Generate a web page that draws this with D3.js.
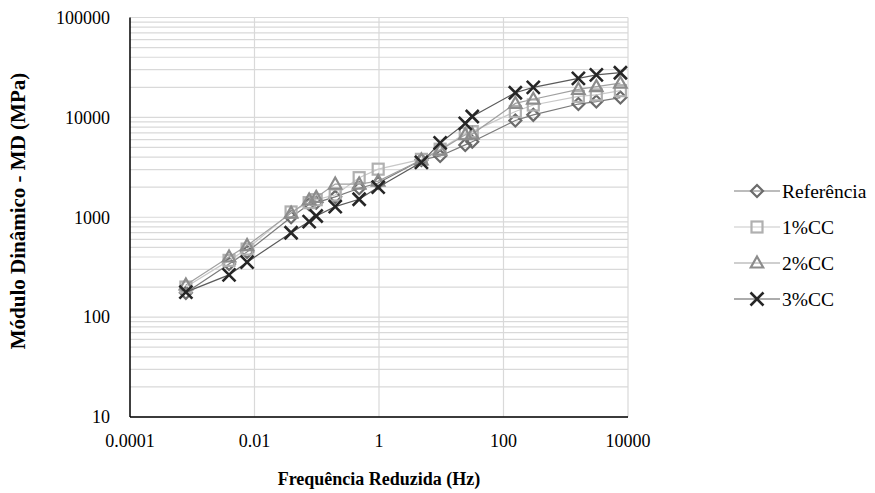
<!DOCTYPE html>
<meta charset="utf-8">
<style>
  body { margin: 0; background: #fff; }
</style>
<script src="https://d3js.org/d3.v7.min.js"></script>
<div id="chart"></div>
<script>

// reduced frequency (Hz)
var freq = [0.00079, 0.0039, 0.0076, 0.0387, 0.0755, 0.098, 0.198, 0.48, 0.97,
            4.8, 9.6, 24.3, 31.5, 155, 301, 1596, 3100, 7550];

// dynamic modulus (MPa) per mixture
var referencia = [175, 340, 450, 1000, 1350, 1400, 1600, 1950, 2200,
                  3750, 4100, 5300, 5700, 9300, 10600, 13600, 14400, 15800];
var cc1 = [200, 370, 480, 1130, 1400, 1500, 1670, 2490, 3030,
           3800, 4800, 6900, 7200, 11450, 13300, 16200, 16800, 18500];
var cc2 = [210, 400, 520, 1100, 1490, 1580, 2150, 2150, 2300,
           3750, 4700, 6700, 6800, 13800, 15200, 19100, 20300, 22000];
var cc3 = [178, 265, 355, 700, 904, 1030, 1276, 1513, 2000,
           3550, 5550, 8700, 10200, 17650, 20000, 24600, 26600, 28000];

var seriesNames = ["Referência", "1%CC", "2%CC", "3%CC"];
var xTicks = [0.0001, 0.01, 1, 100, 10000];
var yTicks = [10, 100, 1000, 10000, 100000];

var FONT = "'Liberation Serif', 'DejaVu Serif', serif";

var W = 875, H = 493;
var margin = {top: 17.5, right: 247, bottom: 76, left: 130};
var width = W - margin.left - margin.right,
    height = H - margin.top - margin.bottom;

var svg = d3.select("#chart").append("svg")
    .attr("width", W).attr("height", H)
    .attr("font-family", FONT);
var g = svg.append("g")
    .attr("transform", "translate(" + margin.left + "," + margin.top + ")");

var x = d3.scaleLog().domain([0.0001, 10000]).range([0, width]);
var y = d3.scaleLog().domain([10, 100000]).range([height, 0]);

// horizontal grid: major + minor
var hLines = [];
yTicks.forEach(function(t) {
  if (t < 100000) { for (var k = 1; k < 10; k++) hLines.push(t * k); }
  else hLines.push(t);
});
g.append("g").selectAll("line").data(hLines).enter().append("line")
    .attr("x1", 0).attr("x2", width)
    .attr("y1", function(d) { return y(d); }).attr("y2", function(d) { return y(d); })
    .attr("stroke", "#d9d9d9").attr("stroke-width", 1.2);

// vertical grid at labelled ticks
g.append("g").selectAll("line").data(xTicks.slice(1)).enter().append("line")
    .attr("y1", 0).attr("y2", height)
    .attr("x1", function(d) { return x(d); }).attr("x2", function(d) { return x(d); })
    .attr("stroke", "#d9d9d9").attr("stroke-width", 1.2);

// axes lines
g.append("line").attr("x1", 0).attr("x2", 0).attr("y1", 0).attr("y2", height)
    .attr("stroke", "#000").attr("stroke-width", 1.5);
g.append("line").attr("x1", 0).attr("x2", width).attr("y1", height).attr("y2", height)
    .attr("stroke", "#000").attr("stroke-width", 1.5);

// tick labels
g.append("g").selectAll("text").data(yTicks).enter().append("text")
    .attr("x", -20).attr("y", function(d) { return y(d); })
    .attr("dy", "0.35em").attr("text-anchor", "end")
    .attr("font-size", 18).text(function(d) { return d; });
g.append("g").selectAll("text").data(xTicks).enter().append("text")
    .attr("x", function(d) { return x(d); }).attr("y", height + 30)
    .attr("text-anchor", "middle").attr("font-size", 18)
    .text(function(d) { return d; });

// axis titles
svg.append("text")
    .attr("transform", "translate(25,211) rotate(-90)")
    .attr("text-anchor", "middle").attr("font-size", 21).attr("font-weight", "bold")
    .text("Módulo Dinâmico - MD (MPa)");
svg.append("text")
    .attr("x", margin.left + width / 2).attr("y", 485)
    .attr("text-anchor", "middle").attr("font-size", 18).attr("font-weight", "bold")
    .text("Frequência Reduzida (Hz)");

// series styling
var styles = [
  {vals: referencia, line: "#7a7a7a", mark: "#6b6b6b", shape: "diamond"},
  {vals: cc1, line: "#c8c8c8", mark: "#b0b0b0", shape: "square"},
  {vals: cc2, line: "#a0a0a0", mark: "#8c8c8c", shape: "triangle"},
  {vals: cc3, line: "#5a5a5a", mark: "#262626", shape: "x"}
];

function drawMarker(sel, shape, color) {
  if (shape === "diamond") {
    sel.append("path").attr("d", "M0,-6L6,0L0,6L-6,0Z")
      .attr("fill", "none").attr("stroke", color).attr("stroke-width", 2.2);
  } else if (shape === "square") {
    sel.append("rect").attr("x", -5.5).attr("y", -5.5).attr("width", 11).attr("height", 11)
      .attr("fill", "none").attr("stroke", color).attr("stroke-width", 2.2);
  } else if (shape === "triangle") {
    sel.append("path").attr("d", "M0,-6.5L6.2,4.5L-6.2,4.5Z")
      .attr("fill", "none").attr("stroke", color).attr("stroke-width", 2.2);
  } else {
    sel.append("path").attr("d", "M-6.5,-6.5L6.5,6.5M-6.5,6.5L6.5,-6.5")
      .attr("fill", "none").attr("stroke", color).attr("stroke-width", 2.6);
  }
}

var line = d3.line()
    .x(function(d) { return x(d[0]); })
    .y(function(d) { return y(d[1]); });

styles.forEach(function(s) {
  var pts = freq.map(function(f, i) { return [f, s.vals[i]]; });
  g.append("path").datum(pts).attr("d", line)
    .attr("fill", "none").attr("stroke", s.line).attr("stroke-width", 1.2);
  g.append("g").selectAll("g").data(pts).enter().append("g")
    .attr("transform", function(d) { return "translate(" + x(d[0]) + "," + y(d[1]) + ")"; })
    .each(function() { drawMarker(d3.select(this), s.shape, s.mark); });
});

// legend
var legend = svg.append("g").attr("transform", "translate(734,191)");
styles.forEach(function(s, i) {
  var row = legend.append("g").attr("transform", "translate(0," + (i * 36) + ")");
  row.append("line").attr("x1", 0).attr("x2", 46).attr("y1", 0).attr("y2", 0)
    .attr("stroke", s.line).attr("stroke-width", 1.2);
  drawMarker(row.append("g").attr("transform", "translate(23,0)"), s.shape, s.mark);
  row.append("text").attr("x", 48).attr("y", 0).attr("dy", "0.35em")
    .attr("font-size", 19.5).text(seriesNames[i]);
});

</script>
